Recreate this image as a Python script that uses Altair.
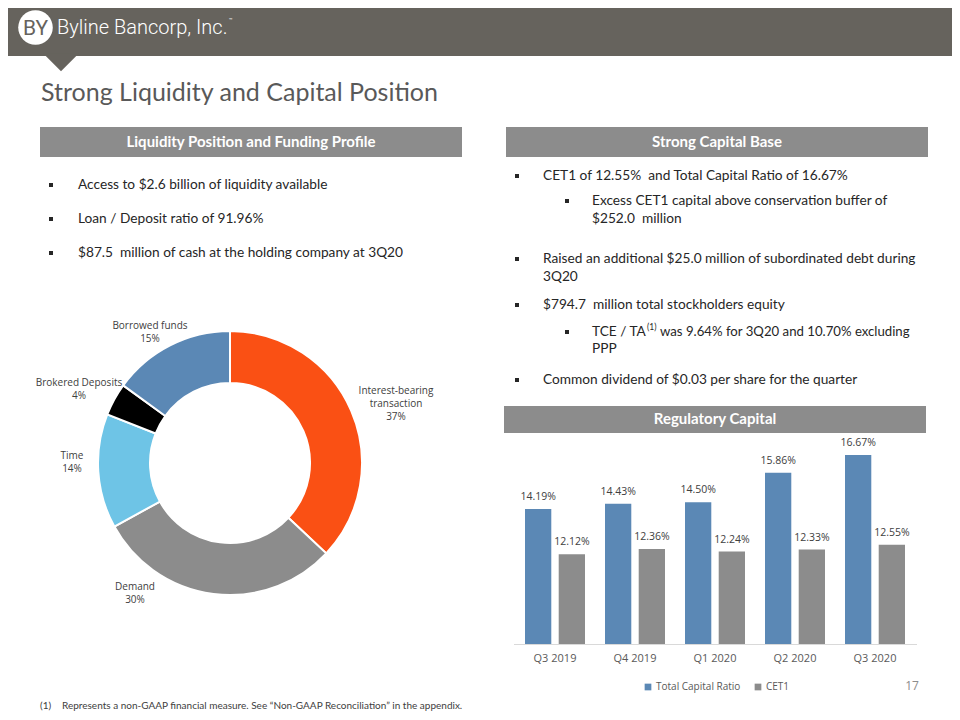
import altair as alt
import pandas as pd

# ---------------- data ----------------
funding_categories = ["Interest-bearing transaction", "Demand", "Time", "Brokered Deposits", "Borrowed funds"]
funding_pct = [37, 30, 14, 4, 15]

quarters = ["Q3 2019", "Q4 2019", "Q1 2020", "Q2 2020", "Q3 2020"]
total_capital_ratio = [14.19, 14.43, 14.50, 15.86, 16.67]
cet1_ratio = [12.12, 12.36, 12.24, 12.33, 12.55]
series_names = ["Total Capital Ratio", "CET1"]

left_bullets = [
    "Access to $2.6 billion of liquidity available",
    "Loan / Deposit ratio of 91.96%",
    "$87.5\u00a0 million of cash at the holding company at 3Q20",
]

# ---------------- styles ----------------
funding_colors = ["#fa5014", "#8c8c8c", "#6ec4e6", "#000000", "#5b88b5"]
bar_colors = ["#5b88b5", "#8c8c8c"]
HEADER = "#66635d"
BOX = "#8c8c8c"
TXT = "#262626"
FONT = "Lato"
CHART_FONT = "Open Sans"

OX, OY = 8, 8


def px(x):
    return x - OX


def py(y):
    return y - OY


one = pd.DataFrame({"k": [0]})


def text(t, x, y, size=13.7, color=TXT, font=FONT, weight="normal", align="left", baseline="middle"):
    return alt.Chart(pd.DataFrame({"t": [t]})).mark_text(
        align=align, baseline=baseline, font=font, fontSize=size, fontWeight=weight, color=color
    ).encode(text="t:N", x=alt.value(px(x)), y=alt.value(py(y)))


def rect(x1, y1, x2, y2, color):
    return alt.Chart(one).mark_rect(color=color).encode(
        x=alt.value(px(x1)), x2=alt.value(px(x2)), y=alt.value(py(y1)), y2=alt.value(py(y2))
    )


def bullet(x, y):
    return alt.Chart(one).mark_square(size=16, color=TXT, opacity=1).encode(
        x=alt.value(px(x)), y=alt.value(py(y))
    )


layers = []

# header band, pointer, logo
layers.append(rect(0, 0, 960, 56, HEADER))
layers.append(
    alt.Chart(one).mark_point(
        shape="M-1,-0.1L1,-0.1L0,0.9Z", filled=True, size=1296, color=HEADER, opacity=1
    ).encode(x=alt.value(px(61)), y=alt.value(py(55)))
)
layers.append(
    alt.Chart(one).mark_circle(size=1195, color="white", opacity=1).encode(
        x=alt.value(px(35.5)), y=alt.value(py(27.5))
    )
)
layers.append(text("BY", 35.5, 28.5, size=21, color=HEADER, font="Roboto", weight=400, align="center"))
layers.append(text("Byline Bancorp, Inc.", 57, 28, size=20, color="white", font="Roboto", weight=300))
layers.append(text("\u2122", 229, 20, size=6, color="white", font="Roboto"))

# title
layers.append(text("Strong Liquidity and Capital Position", 41, 93, size=25, color="#595959"))

# section boxes
layers.append(rect(40, 127, 462, 157, BOX))
layers.append(text("Liquidity Position and Funding Profile", 251, 142, size=15, color="white", weight="bold", align="center"))
layers.append(rect(506, 127, 928, 157, BOX))
layers.append(text("Strong Capital Base", 717, 142, size=15, color="white", weight="bold", align="center"))
layers.append(rect(504, 406, 926, 433, BOX))
layers.append(text("Regulatory Capital", 715, 419, size=15, color="white", weight="bold", align="center"))

# left bullets
for t, y in zip(left_bullets, [185, 219, 253]):
    layers.append(bullet(51, y))
    layers.append(text(t, 78, y))

# right bullets
layers.append(bullet(517, 176))
layers.append(text("CET1 of 12.55%\u00a0 and Total Capital Ratio of 16.67%", 543, 176))
layers.append(bullet(567, 201))
layers.append(text("Excess CET1 capital above conservation buffer of", 592, 201))
layers.append(text("$252.0\u00a0 million", 592, 218.5))
layers.append(bullet(517, 259))
layers.append(text("Raised an additional $25.0 million of subordinated debt during", 543, 259))
layers.append(text("3Q20", 543, 277))
layers.append(bullet(517, 305))
layers.append(text("$794.7\u00a0 million total stockholders equity", 543, 305))
layers.append(bullet(567, 332))
layers.append(text("TCE / TA", 592, 332))
layers.append(text("(1)", 647, 327, size=8.5))
layers.append(text("was 9.64% for 3Q20 and 10.70% excluding", 660, 332, size=13.2))
layers.append(text("PPP", 592, 348.5))
layers.append(bullet(517, 380))
layers.append(text("Common dividend of $0.03 per share for the quarter", 543, 380))

# ---------------- donut ----------------
donut_df = pd.DataFrame({"cat": funding_categories, "pct": funding_pct, "ord": list(range(len(funding_pct)))})
donut = alt.Chart(donut_df).mark_arc(innerRadius=80, outerRadius=132, stroke="white", strokeWidth=2).encode(
    theta=alt.Theta("pct:Q", stack=True),
    order=alt.Order("ord:Q"),
    color=alt.Color("cat:N", scale=alt.Scale(domain=funding_categories, range=funding_colors), legend=None),
    x=alt.value(px(230)),
    y=alt.value(py(463)),
)
layers.append(donut)

# donut labels (positions are style; text from the data arrays)
label_pos = {
    "Interest-bearing transaction": (396, 391, ["Interest-bearing", "transaction"]),
    "Demand": (135, 587, ["Demand"]),
    "Time": (72, 456, ["Time"]),
    "Brokered Deposits": (79, 383, ["Brokered Deposits"]),
    "Borrowed funds": (150, 326, ["Borrowed funds"]),
}
for cat, pct in zip(funding_categories, funding_pct):
    x0, y0, lines = label_pos[cat]
    for i, line in enumerate(lines + [f"{pct}%"]):
        layers.append(text(line, x0, y0 + 13 * i, size=10, color="#404040", font=CHART_FONT, align="center"))

# ---------------- bar chart ----------------
bar_df = pd.DataFrame({
    "quarter": quarters * 2,
    "series": [series_names[0]] * len(quarters) + [series_names[1]] * len(quarters),
    "value": total_capital_ratio + cet1_ratio,
})
bar_df["label"] = bar_df["value"].map(lambda v: f"{v:.2f}%")

xscale = alt.Scale(domain=quarters, range=[px(515), px(915)], paddingInner=0.25, paddingOuter=0.125)
yscale = alt.Scale(domain=[8, 18], range=[py(644), py(426)], zero=False, nice=False)
x_enc = alt.X("quarter:N", scale=xscale, axis=None, sort=quarters)
xo_enc = alt.XOffset("series:N", scale=alt.Scale(domain=series_names, paddingInner=0.22), sort=series_names)
y_enc = alt.Y("value:Q", scale=yscale, axis=None)

layers.append(
    alt.Chart(one).mark_rule(color="#d9d9d9", strokeWidth=1).encode(
        x=alt.value(px(514)), x2=alt.value(px(917)), y=alt.value(py(644.5))
    )
)

bars = alt.Chart(bar_df).mark_bar().encode(
    x=x_enc,
    xOffset=xo_enc,
    y=y_enc,
    y2=alt.datum(8),
    color=alt.Color(
        "series:N",
        scale=alt.Scale(domain=series_names, range=bar_colors),
        legend=alt.Legend(
            orient="none", legendX=px(643), legendY=py(682), direction="horizontal", title=None,
            symbolType="square", symbolSize=45, symbolStrokeWidth=0, labelFont=CHART_FONT,
            labelFontSize=10, labelColor="#595959", columnPadding=12, padding=0, labelOffset=3,
        ),
    ),
)
layers.append(bars)

bar_labels = alt.Chart(bar_df).mark_text(dy=-12, font=CHART_FONT, fontSize=10.5, color="#404040").encode(
    x=x_enc, xOffset=xo_enc, y=y_enc, text="label:N"
)
layers.append(bar_labels)

xlabels = alt.Chart(pd.DataFrame({"quarter": quarters})).mark_text(
    font=CHART_FONT, fontSize=11, color="#595959", baseline="middle"
).encode(x=x_enc, y=alt.value(py(659)), text="quarter:N")
layers.append(xlabels)

# page number and footnote
layers.append(text("17", 912, 686, size=12, color="#8c8c8c", font=CHART_FONT, align="center"))
layers.append(text("(1)", 40, 706, size=10, color="#404040"))
layers.append(text("Represents a non-GAAP financial measure. See \u201cNon-GAAP Reconciliation\u201d in the appendix.", 62, 706, size=10, color="#404040"))

chart = alt.layer(*layers).resolve_scale(color="independent").properties(
    width=944, height=704, padding=0, autosize=alt.AutoSizeParams(type="none"), background="white"
).configure_view(stroke=None)

chart.save("out.html", embed_options={"renderer": "svg", "actions": False})
